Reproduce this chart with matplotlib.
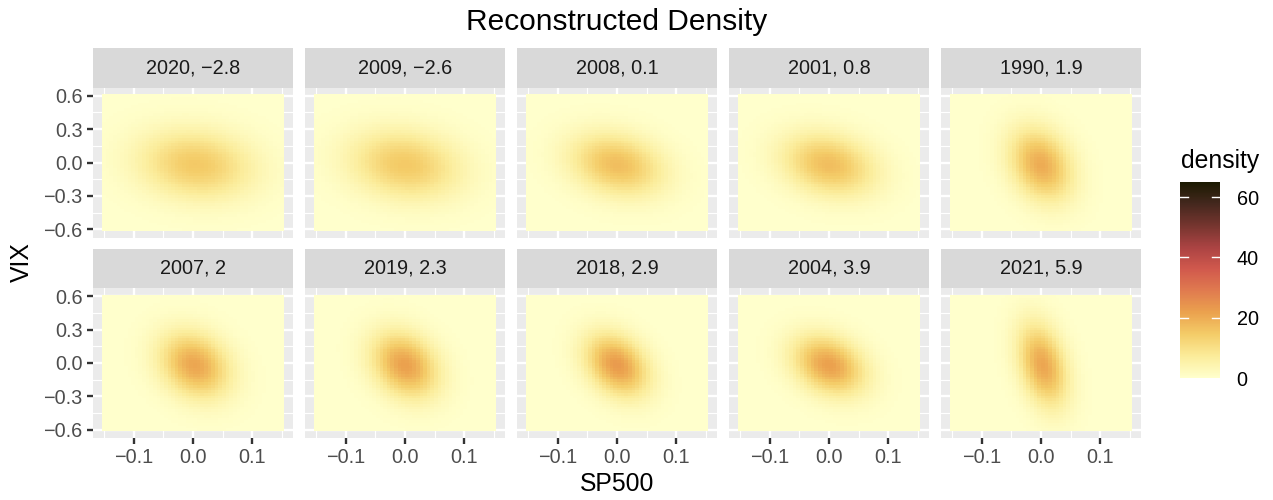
import numpy as np
import matplotlib
matplotlib.use("Agg")
import matplotlib.pyplot as plt
from matplotlib.colors import LinearSegmentedColormap

plt.rcParams['font.family'] = ['Liberation Sans', 'DejaVu Sans']

# ---- data ----
years = [2020, 2009, 2008, 2001, 1990, 2007, 2019, 2018, 2004, 2021]
scores = ["\u22122.8", "\u22122.6", "0.1", "0.8", "1.9", "2", "2.3", "2.9", "3.9", "5.9"]
peak_density = [15, 15, 17, 17, 20, 21, 22, 23, 22, 21]
sd_sp500 = [0.065, 0.063, 0.053, 0.053, 0.036, 0.040, 0.038, 0.036, 0.041, 0.028]
sd_vix = [0.21, 0.21, 0.19, 0.19, 0.22, 0.20, 0.20, 0.19, 0.18, 0.25]
rho = [-0.12, -0.15, -0.22, -0.22, -0.25, -0.22, -0.25, -0.30, -0.27, -0.33]
mu_sp500 = [0.005, 0.0, 0.0, 0.0, 0.0, 0.003, 0.0, 0.0, 0.0, 0.003]
mu_vix = [-0.02, -0.02, -0.02, -0.02, -0.02, -0.02, -0.02, -0.02, -0.02, -0.02]
sp500_grid = np.linspace(-0.15, 0.15, 50)
vix_grid = np.linspace(-0.6, 0.6, 50)
density_limits = [0, 65]
x_ticks = [-0.1, 0.0, 0.1]
y_ticks = [-0.6, -0.3, 0.0, 0.3, 0.6]
legend_ticks = [0, 20, 40, 60]

lajolla = ["#FFFFCC", "#FBEC9A", "#F4CC68", "#EBA24E", "#E07B4F",
           "#D1594D", "#AB4343", "#76352F", "#45281E", "#1A1A01"]
cmap = LinearSegmentedColormap.from_list("lajolla", lajolla)

W, H = 1273, 500
fig = plt.figure(figsize=(W / 100, H / 100), dpi=100)

def fr(x0, y0, w, h):
    return [x0 / W, 1 - (y0 + h) / H, w / W, h / H]

panel_x = [93, 305, 517, 729, 941]
panel_w = 200
row_top = [87.5, 288]
panel_h = 150
strip_h = 39.5

dx = (sp500_grid[1] - sp500_grid[0]) / 2
dy = (vix_grid[1] - vix_grid[0]) / 2
xr = (sp500_grid[-1] + dx) - (sp500_grid[0] - dx)
yr = (vix_grid[-1] + dy) - (vix_grid[0] - dy)
xlim = (sp500_grid[0] - dx - 0.05 * xr, sp500_grid[-1] + dx + 0.05 * xr)
ylim = (vix_grid[0] - dy - 0.05 * yr, vix_grid[-1] + dy + 0.05 * yr)

X, Y = np.meshgrid(sp500_grid, vix_grid)
mesh = None
for i in range(10):
    r, c = divmod(i, 5)
    ax = fig.add_axes(fr(panel_x[c], row_top[r], panel_w, panel_h))
    ax.set_facecolor("#EBEBEB")
    zx = (X - mu_sp500[i]) / sd_sp500[i]
    zy = (Y - mu_vix[i]) / sd_vix[i]
    q = (zx ** 2 - 2 * rho[i] * zx * zy + zy ** 2) / (1 - rho[i] ** 2)
    Z = peak_density[i] * np.exp(-q / 2)
    mesh = ax.pcolormesh(sp500_grid, vix_grid, Z, shading="nearest", cmap=cmap,
                         vmin=density_limits[0], vmax=density_limits[1], zorder=2,
                         rasterized=True)
    ax.set_xlim(xlim)
    ax.set_ylim(ylim)
    ax.set_xticks(x_ticks)
    ax.set_yticks(y_ticks)
    ax.set_yticks([-0.45, -0.15, 0.15, 0.45], minor=True)
    ax.set_xticks([-0.15, -0.05, 0.05, 0.15], minor=True)
    ax.grid(which="major", color="white", linewidth=1.7, zorder=1)
    ax.grid(which="minor", color="white", linewidth=0.85, zorder=1)
    ax.set_axisbelow(True)
    for s in ax.spines.values():
        s.set_visible(False)
    ax.tick_params(which="minor", length=0)
    ax.tick_params(which="major", length=4.4, width=1.7, color="#333333",
                   labelsize=14.3, labelcolor="#4D4D4D", pad=3)
    if r == 0:
        ax.tick_params(axis="x", length=0, labelbottom=False)
    else:
        ax.set_xticklabels(["\u22120.1", "0.0", "0.1"])
    if c != 0:
        ax.tick_params(axis="y", length=0, labelleft=False)
    else:
        ax.set_yticklabels(["\u22120.6", "\u22120.3", "0.0", "0.3", "0.6"])
    # strip
    sax = fig.add_axes(fr(panel_x[c], row_top[r] - strip_h, panel_w, strip_h))
    sax.set_facecolor("#D9D9D9")
    sax.set_xticks([]); sax.set_yticks([])
    for s in sax.spines.values():
        s.set_visible(False)
    sax.text(0.5, 0.5, f"{years[i]}, {scores[i]}", ha="center", va="center",
             fontsize=14.3, color="#1A1A1A", transform=sax.transAxes)

# titles
fig.text(617 / W, 1 - 22 / H, "Reconstructed Density", ha="center", va="center",
         fontsize=21.5, color="black")
fig.text(617 / W, 1 - 484 / H, "SP500", ha="center", va="center", fontsize=17.8)
fig.text(22 / W, 1 - 262 / H, "VIX", ha="center", va="center", fontsize=17.8,
         rotation=90)

# colorbar
cax = fig.add_axes(fr(1180, 182, 40, 196))
cb = fig.colorbar(mesh, cax=cax)
cb.outline.set_visible(False)
cb.set_ticks(legend_ticks)
cax.tick_params(length=0, labelsize=14.3, labelcolor="black", pad=12)
for t in legend_ticks[1:]:
    cax.plot([0, 0.2], [t, t], color="white", lw=1.0,
             transform=cax.get_yaxis_transform())
    cax.plot([0.8, 1.0], [t, t], color="white", lw=1.0,
             transform=cax.get_yaxis_transform())
fig.text(1181 / W, 1 - 161 / H, "density", ha="left", va="center", fontsize=17.8)

fig.savefig("out.png", dpi=100)
